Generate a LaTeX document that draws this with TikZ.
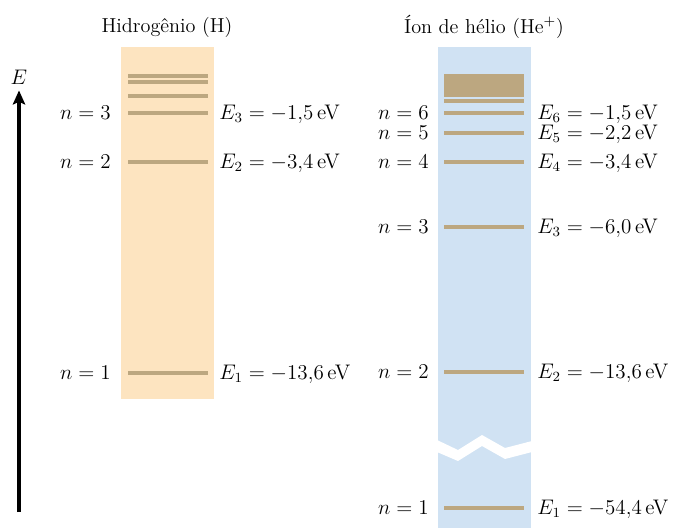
\documentclass[tikz,border=0pt]{standalone}
\usepackage{amsmath}
\usepackage{tikz}
\usetikzlibrary{arrows.meta, positioning}
\definecolor{fundoH}{RGB}{253,228,192}
\definecolor{fundoHe}{RGB}{208,226,243}
\definecolor{niv}{RGB}{188,167,128}
\tikzset{
  % linha de nível de energia
  nivel/.style={line width=2.3pt, draw=niv},
  % rótulos à esquerda (n) e à direita (E_n)
  nlbl/.style={anchor=mid east, inner sep=0pt, yshift=-1.6pt},
  elbl/.style={anchor=mid west, inner sep=0pt, yshift=-1.6pt},
  tit/.style={font=\fontsize{11.5}{13}\selectfont},
  ar/.style={-{Stealth[length=8pt, width=7pt, inset=1.5pt]}, line width=1.8pt, draw=black}
}
\begin{document}
\begin{tikzpicture}[x=0.02cm, y=-0.02cm, every node/.style={font=\fontsize{12}{14}\selectfont}]
    \useasboundingbox (0,0) rectangle (674,528);

    % eixo de energia
    \node (eax) at (19,77) {$E$};
    \coordinate (ebot) at (19,512);
    \draw[ar] (ebot) -- (eax.south);

    % coluna do hidrogênio
    \fill[fundoH] (121,47) rectangle (214,399);
    \node[tit] (tH) at (167,27) {Hidrogênio (H)};
    \draw[nivel] (128,76) -- (208,76);
    \draw[nivel] (128,82) -- (208,82);
    \draw[nivel] (128,96) -- (208,96);
    \draw[nivel] (128,113) -- (208,113);
    \draw[nivel] (128,162) -- (208,162);
    \draw[nivel] (128,373) -- (208,373);
    \node[nlbl] (hn3) at (111,113) {$n = 3$};
    \node[nlbl] (hn2) at (111,162) {$n = 2$};
    \node[nlbl] (hn1) at (111,373) {$n = 1$};
    \node[elbl] (hE3) at (219,113) {$E_3 = -1{,}5\,\text{eV}$};
    \node[elbl] (hE2) at (219,162) {$E_2 = -3{,}4\,\text{eV}$};
    \node[elbl] (hE1) at (219,373) {$E_1 = -13{,}6\,\text{eV}$};

    % coluna do íon de hélio
    \fill[fundoHe] (438,47) rectangle (531,528);
    \node[tit] (tHe) at (484,27) {Íon de hélio (He$^{+}$)};
    \fill[niv] (444,74) rectangle (524,96.5);
    \draw[nivel] (444,101) -- (524,101);
    \draw[nivel] (444,113) -- (524,113);
    \draw[nivel] (444,133) -- (524,133);
    \draw[nivel] (444,162) -- (524,162);
    \draw[nivel] (444,227) -- (524,227);
    \draw[nivel] (444,372) -- (524,372);
    \draw[nivel] (444,508) -- (524,508);
    % quebra da escala
    \fill[white] (437,440) -- (458,450) -- (482,435) -- (505,448) -- (532,441)
      -- (532,452) -- (505,459) -- (482,446) -- (458,461) -- (437,452) -- cycle;
    \node[nlbl] (en6) at (429,113) {$n = 6$};
    \node[nlbl] (en5) at (429,133) {$n = 5$};
    \node[nlbl] (en4) at (429,162) {$n = 4$};
    \node[nlbl] (en3) at (429,227) {$n = 3$};
    \node[nlbl] (en2) at (429,372) {$n = 2$};
    \node[nlbl] (en1) at (429,508) {$n = 1$};
    \node[elbl] (eE6) at (537,113) {$E_6 = -1{,}5\,\text{eV}$};
    \node[elbl] (eE5) at (537,133) {$E_5 = -2{,}2\,\text{eV}$};
    \node[elbl] (eE4) at (537,162) {$E_4 = -3{,}4\,\text{eV}$};
    \node[elbl] (eE3) at (537,227) {$E_3 = -6{,}0\,\text{eV}$};
    \node[elbl] (eE2) at (537,372) {$E_2 = -13{,}6\,\text{eV}$};
    \node[elbl] (eE1) at (537,508) {$E_1 = -54{,}4\,\text{eV}$};
  \end{tikzpicture}
\end{document}
